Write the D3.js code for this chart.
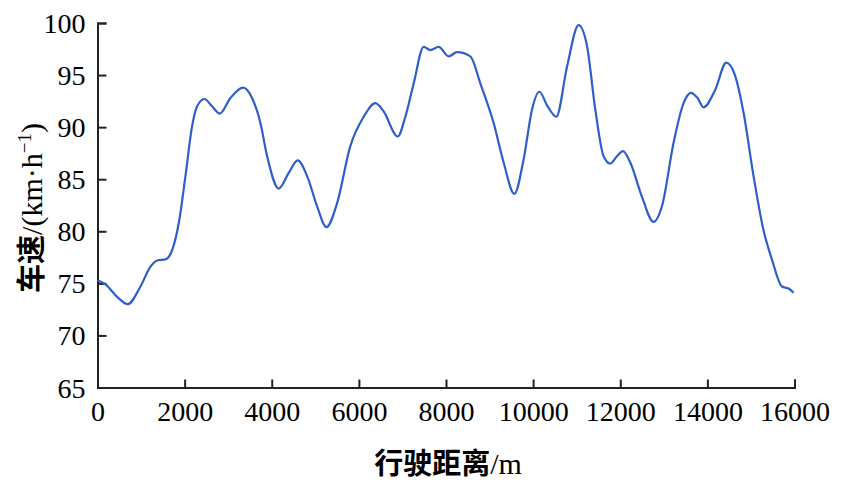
<!DOCTYPE html>
<html><head><meta charset="utf-8">
<script src="https://cdn.jsdelivr.net/npm/d3@7"></script>
<style>body{margin:0;background:#fff;}svg{display:block;}</style>
</head><body>
<script>
const distance = [0,184,451,696,987,1216,1369,1560,1714,1866,2019,2172,2287,2455,2631,2806,3052,3343,3549,3740,3894,4160,4390,4596,4812,5041,5255,5500,5805,6111,6379,6570,6891,7067,7258,7488,7641,7832,8061,8254,8559,8788,9094,9323,9569,9782,9975,10142,10333,10532,10778,11044,11237,11427,11618,11771,11925,12062,12230,12499,12765,12957,13224,13453,13623,13775,13912,14181,14433,14640,14830,15060,15289,15482,15711,15864,15979];
const speed = [75.3,74.9,73.7,73.0,74.7,76.6,77.2,77.3,78.2,80.8,85.3,90.1,92.0,92.7,92.0,91.3,92.8,93.8,92.8,90.4,87.2,84.1,85.6,86.8,85.3,82.4,80.4,82.7,88.2,91.0,92.3,91.5,89.1,91.0,94.2,97.7,97.4,97.7,96.8,97.2,96.8,94.2,90.4,86.6,83.6,86.9,91.7,93.4,92.0,91.0,95.8,99.8,97.8,91.7,87.2,86.5,87.2,87.7,86.6,83.3,80.9,82.4,88.5,92.3,93.3,92.8,91.9,93.6,96.2,94.9,91.4,85.3,80.1,77.3,74.7,74.5,74.1];
const xTicks = [0,2000,4000,6000,8000,10000,12000,14000,16000];
const yTicks = [65,70,75,80,85,90,95,100];

const W=846,H=490;
const svg=d3.select("body").append("svg").attr("width",W).attr("height",H);
const x=d3.scaleLinear().domain([0,16000]).range([97.5,794.5]);
const y=d3.scaleLinear().domain([65,100]).range([387.5,23]);
const numFont='"Liberation Serif","Times New Roman",serif';
const cjkFont='"Noto Sans CJK SC",sans-serif';

const xAxis=svg.append("g").attr("transform","translate(0,387.5)")
  .call(d3.axisBottom(x).tickValues(xTicks).tickSizeInner(-8).tickSizeOuter(-8).tickPadding(14).tickFormat(d3.format("d")));
const yAxis=svg.append("g").attr("transform","translate(97.5,0)")
  .call(d3.axisLeft(y).tickValues(yTicks).tickSizeInner(-9).tickSizeOuter(-9).tickPadding(12));
[xAxis,yAxis].forEach(g=>{
  g.selectAll("path,line").attr("stroke","#222").attr("stroke-width",2);
  g.selectAll("text").attr("fill","#000").style("font-family",numFont).style("font-size","28px");
});
xAxis.selectAll("text").attr("dy","0.71em");
yAxis.selectAll("text").attr("dy","0.34em");

const line=d3.line().x((d,i)=>x(distance[i])).y(d=>y(d)).curve(d3.curveMonotoneX);
svg.append("path").datum(speed).attr("d",line).attr("fill","none")
  .attr("stroke","#2f5ec8").attr("stroke-width",2.2);

const xt=svg.append("text").attr("x",448).attr("y",474).attr("text-anchor","middle")
  .style("font-family",numFont).style("font-size","30px");
xt.append("tspan").style("font-family",cjkFont).style("font-weight","bold").style("font-size","29px").text("行驶距离");
xt.append("tspan").text("/m");

const yt=svg.append("text").attr("transform","translate(42,208) rotate(-90)").attr("text-anchor","middle")
  .style("font-family",numFont).style("font-size","30px");
yt.append("tspan").style("font-family",cjkFont).style("font-weight","bold").style("font-size","29px").text("车速");
yt.append("tspan").text("/(km·h");
yt.append("tspan").attr("dy",-11).style("font-size","19px").text("−1");
yt.append("tspan").attr("dy",11).text(")");
</script>
</body></html>
